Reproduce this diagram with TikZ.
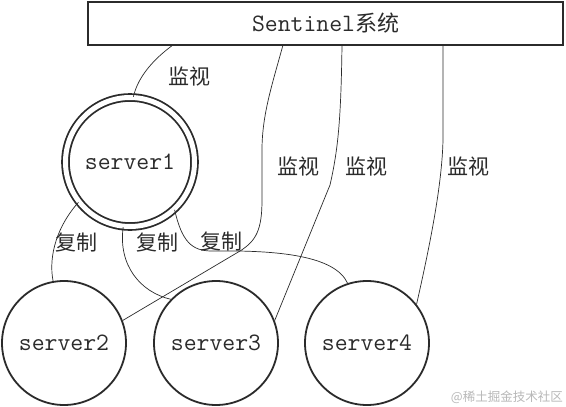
\documentclass[tikz,border=0pt]{standalone}
\usepackage{fontspec}
\newfontfamily\cjk{Noto Sans CJK SC}
\definecolor{ink}{HTML}{2B2B2B}
\definecolor{wmgray}{HTML}{B8B8B8}
\begin{document}
\begin{tikzpicture}[x=1pt,y=-1pt,
  srv/.style={circle,draw=ink,line width=1.8pt,minimum size=124pt,inner sep=0pt,text=ink,font=\ttfamily\fontsize{25}{25}\selectfont},
  conn/.style={draw=ink,line width=0.7pt},
  lbl/.style={font=\cjk\fontsize{21}{21}\selectfont,text=ink,inner sep=0pt}]
\useasboundingbox (0,0) rectangle (566,407);
\fill[white] (0,0) rectangle (566,407);
% Sentinel system box
\node[draw=ink,line width=1.8pt,minimum width=475pt,minimum height=43pt,inner sep=0pt,text=ink] (box) at (325.5,23.5)
  {\ttfamily\fontsize{25}{25}\selectfont Sentinel{\cjk\fontsize{22}{22}\selectfont 系统}};
\coordinate (b1) at (173,45);
\coordinate (b2) at (283,45);
\coordinate (b3) at (342,45);
\coordinate (b4) at (443,45);
% servers
\node[srv,double=white,double distance=5pt,minimum size=129pt] (s1) at (130,162) {server1};
\node[srv] (s2) at (64,343) {server2};
\node[srv] (s3) at (216,343) {server3};
\node[srv] (s4) at (367,343) {server4};
% monitor connectors
\draw[conn] (b1) .. controls (155,58) and (138,76) .. (s1.87);
\draw[conn] (b2) .. controls (272,85) and (262,115) .. (262,150) -- (262,200)
  .. controls (262,230) and (256,241) .. (240,251) -- (s2.21);
\draw[conn] (b3) .. controls (341,120) and (338,150) .. (330,185) -- (s3.21);
\draw[conn] (b4) -- (443,140) .. controls (442,185) and (430,245) .. (s4.38);
% replication connectors
\draw[conn] (s1.218) .. controls (58,225) and (48,255) .. (s2.100);
\draw[conn] (s1.264) .. controls (118,265) and (140,292) .. (s3.136);
\draw[conn] (s1.313) .. controls (182,242) and (192,251) .. (212,251)
  .. controls (280,250) and (335,256) .. (s4.108);
% labels
\node[lbl] (m1) at (189,77) {监视};
\node[lbl] (m2) at (298,167) {监视};
\node[lbl] (m3) at (366,167) {监视};
\node[lbl] (m4) at (468,167) {监视};
\node[lbl] (r1) at (77,243) {复制};
\node[lbl] (r2) at (157,243) {复制};
\node[lbl] (r3) at (221,242) {复制};
% watermark
\node[anchor=east,inner sep=0pt,font=\cjk\fontsize{12.5}{12.5}\selectfont,text=wmgray] (wm) at (563,397) {@稀土掘金技术社区};
\end{tikzpicture}
\end{document}
